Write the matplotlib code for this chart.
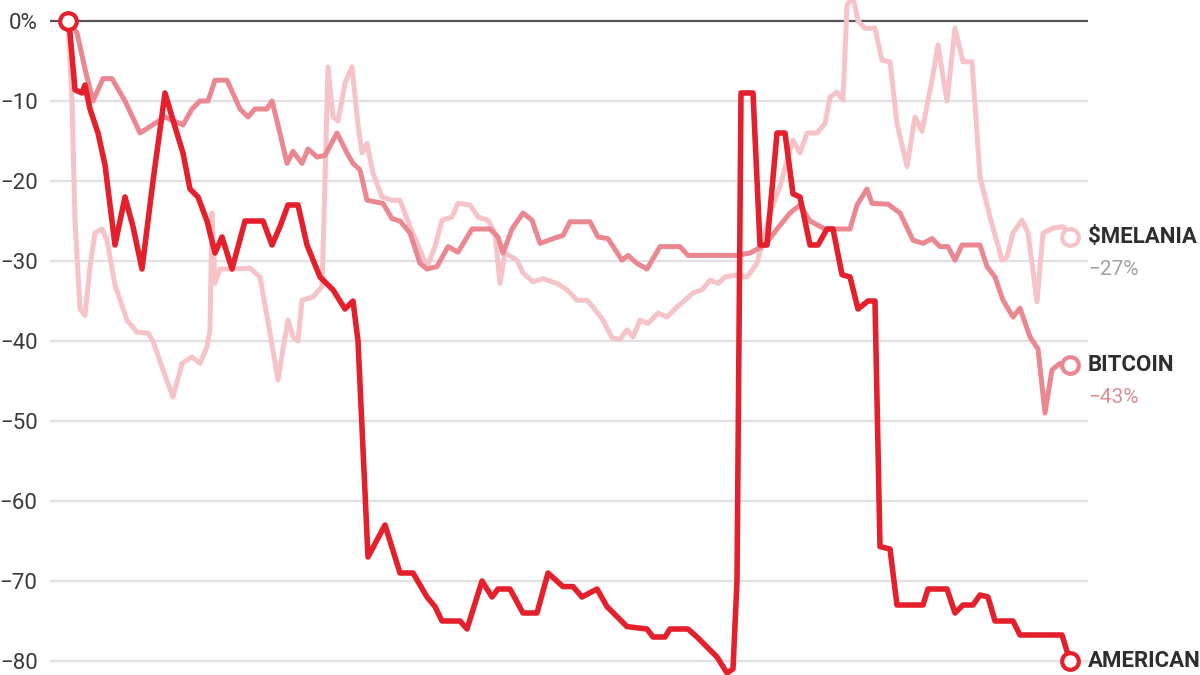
import matplotlib
matplotlib.use('Agg')
import matplotlib.pyplot as plt
from matplotlib import font_manager

# x = trading-day position along the chart, y = % change since launch
t_american = [68, 70, 75, 82, 85, 90, 98, 105, 115, 125, 133, 142, 153, 165, 173, 183, 190, 198,
              207, 215, 222, 232, 245, 263, 272, 280, 288, 298, 307, 320, 333, 345, 353, 358,
              368, 385, 400, 413, 427, 435, 442, 460, 467, 482, 492, 498, 510, 523, 537, 548,
              563, 573, 582, 597, 607, 627, 647, 653, 665, 670, 688, 697, 717, 727, 733, 737,
              741, 753, 760, 767, 777, 785, 793, 800, 810, 818, 827, 833, 842, 850, 858, 868,
              875, 880, 890, 897, 923, 928, 947, 955, 963, 973, 980, 988, 995, 1013, 1020,
              1062, 1070]
american = [0, -1.5, -8.6, -9, -8, -11, -14, -18, -28, -22, -25.7, -31, -20, -9, -12.4, -16.5, -21, -22,
            -25, -29, -27, -31, -25, -25, -28, -25.7, -23, -23, -28, -32, -33.6, -36, -35, -40,
            -67, -63, -69, -69, -72, -73.2, -75, -75, -76, -70, -72, -71, -71, -74, -74, -69,
            -70.7, -70.7, -72, -71, -73.2, -75.7, -76, -77, -77, -76, -76, -77, -79.5, -81.5, -81, -70,
            -9, -9, -28, -28, -14, -14, -21.6, -22, -28, -28, -26, -26, -31.7, -32, -36, -35,
            -35, -65.7, -66, -73, -73, -71, -71, -74, -73, -73, -71.75, -72, -75, -75, -76.75,
            -76.75, -80]

t_bitcoin = [68, 77, 85, 93, 103, 112, 125, 140, 150, 165, 183, 192, 200, 208, 215, 227, 240, 248,
             255, 267, 272, 278, 287, 293, 302, 308, 317, 325, 337, 347, 353, 360, 367, 383, 392,
             400, 410, 420, 427, 437, 448, 458, 472, 490, 498, 503, 512, 523, 532, 540, 553, 563,
             570, 590, 598, 608, 622, 628, 637, 647, 660, 680, 688, 737, 750, 765, 777, 790, 800,
             810, 825, 850, 857, 867, 872, 888, 900, 913, 923, 932, 940, 948, 955, 962, 980, 987,
             995, 1003, 1013, 1020, 1030, 1038, 1045, 1052, 1060, 1070]
bitcoin = [0, -1.5, -6, -10, -7.2, -7.2, -10, -14, -13.2, -12, -13, -11, -10, -10, -7.4, -7.4, -11, -12,
           -11, -11, -10, -13, -17.8, -16.3, -17.8, -16, -17, -16.8, -14, -16.5, -17.8, -18.6, -22.4, -22.8, -24.7,
           -25, -26.5, -30.3, -31, -30.7, -28.2, -28.9, -26, -26, -27, -29, -26, -24, -24.9, -27.8, -27.2, -26.8,
           -25.1, -25.1, -27, -27.2, -29.9, -29.3, -30.3, -31, -28.2, -28.2, -29.3, -29.3, -29, -28, -26, -24, -23,
           -25, -26, -26, -23, -21, -22.8, -22.9, -24, -27.4, -27.8, -27.2, -28.2, -28.2, -29.9, -28, -28, -30.7,
           -32, -34.9, -37, -35.9, -39.5, -41, -49, -43.6, -42.8, -43]

t_melania = [68, 72, 75, 80, 85, 90, 95, 102, 107, 115, 127, 137, 148, 153, 163, 173, 182, 192, 200,
             207, 210, 212, 215, 220, 233, 250, 260, 270, 278, 283, 288, 293, 298, 302, 313, 322,
             325, 328, 333, 338, 345, 352, 358, 362, 367, 373, 382, 392, 400, 410, 420, 427, 435,
             442, 452, 458, 470, 478, 488, 495, 500, 505, 517, 523, 533, 543, 557, 567, 577, 587,
             593, 603, 612, 620, 627, 633, 640, 648, 658, 667, 677, 685, 693, 702, 710, 718, 725,
             737, 747, 757, 763, 770, 780, 787, 793, 800, 807, 817, 825, 830, 837, 843, 847, 853,
             858, 865, 875, 882, 890, 897, 907, 915, 922, 932, 938, 947, 955, 963, 972, 980, 990,
             1002, 1007, 1013, 1022, 1028, 1037, 1043, 1053, 1063, 1070]
melania = [0, -10, -25, -36, -36.8, -30.7, -26.5, -26, -27.4, -33, -37.4, -38.9, -39, -40, -43.6, -47, -42.8, -42, -42.8,
           -40.7, -38.6, -24, -32.8, -31, -31, -30.9, -32, -39, -44.9, -41, -37.4, -39.5, -40, -34.9, -34.5, -33.2,
           -20, -5.75, -12, -12.5, -7.8, -5.75, -13, -16.5, -15.3, -19, -22, -22.4, -22.4, -25.7, -28.6, -30.7, -28.2,
           -24.9, -24.5, -22.8, -23, -24.5, -24.9, -26.5, -32.8, -29, -29.9, -31.5, -32.6, -32.2, -32.8, -33.6, -34.9, -34.9,
           -35.75, -37.4, -39.6, -39.8, -38.6, -39.5, -37.4, -37.8, -36.5, -37, -35.75, -34.9, -34, -33.6, -32.4, -32.8, -32,
           -31.75, -32, -30.3, -27.4, -24, -20.7, -17.4, -14.9, -16.5, -14, -14, -12.8, -9.5, -8.9, -9.9, 2, 3,
           0, -0.9, -0.9, -4.9, -5.1, -12.8, -18.2, -12, -13.8, -7.4, -3, -10, -0.9, -5.1, -5.1, -19.5, -24.5,
           -29.9, -29.5, -26.5, -24.9, -26.5, -35.1, -26.5, -25.9, -25.7, -27]

yticks = [0, -10, -20, -30, -40, -50, -60, -70, -80]
ytick_labels = ['0%', '−10', '−20', '−30', '−40', '−50', '−60', '−70', '−80']

names = {'melania': '\\$MELANIA', 'bitcoin': 'BITCOIN', 'american': 'AMERICAN'}
c_american = '#e3202b'
c_bitcoin = '#eb8790'
c_melania = '#f6c3c8'

narrow = 'Liberation Sans Narrow'
try:
    font_manager.findfont(narrow, fallback_to_default=False)
except Exception:
    narrow = 'Roboto'

plt.rcParams['font.family'] = [narrow, 'DejaVu Sans']

fig = plt.figure(figsize=(12, 6.75), dpi=100)
ax = fig.add_axes([50 / 1200, 0, 1038 / 1200, 1])
ax.set_xlim(50, 1088)
ax.set_ylim(-81.75, 2.625)

for y in yticks[1:]:
    ax.axhline(y, color='#e0e0e0', lw=1.6, zorder=1)
ax.axhline(0, color='#555555', lw=1.6, zorder=2)

ax.plot(t_melania, melania, color=c_melania, lw=3.6, solid_joinstyle='round', zorder=3)
ax.plot(t_bitcoin, bitcoin, color=c_bitcoin, lw=3.6, solid_joinstyle='round', zorder=4)
ax.plot(t_american, american, color=c_american, lw=4.0, solid_joinstyle='round', zorder=5)

mk = dict(marker='o', ms=12, mew=3, mfc='white', clip_on=False)
ax.plot(t_melania[-1], melania[-1], mec=c_melania, zorder=6, **mk)
ax.plot(t_bitcoin[-1], bitcoin[-1], mec=c_bitcoin, zorder=6, **mk)
ax.plot(t_american[-1], american[-1], mec=c_american, zorder=7, **mk)
ax.plot(t_american[0], american[0], mec=c_american, zorder=7, **mk)

lx = 1088
ax.text(lx, melania[-1], names['melania'], fontsize=16, fontweight='bold', color='#2e2e2e',
        va='center', ha='left', clip_on=False)
ax.text(lx, melania[-1] - 4, '−27%', fontsize=15, color='#a0a0a0', va='center', ha='left', clip_on=False)
ax.text(lx, bitcoin[-1], names['bitcoin'], fontsize=16, fontweight='bold', color='#2e2e2e',
        va='center', ha='left', clip_on=False)
ax.text(lx, bitcoin[-1] - 4, '−43%', fontsize=15, color='#df8c94', va='center', ha='left', clip_on=False)
ax.text(lx, american[-1], names['american'], fontsize=16, fontweight='bold', color='#2e2e2e',
        va='center', ha='left', clip_on=False)

ax.set_yticks(yticks)
ax.set_yticklabels(ytick_labels, fontsize=16, color='#3a3a3a')
ax.tick_params(axis='y', length=0, pad=9)
ax.set_xticks([])
for s in ax.spines.values():
    s.set_visible(False)

fig.savefig('out.png', dpi=100, facecolor='white')
